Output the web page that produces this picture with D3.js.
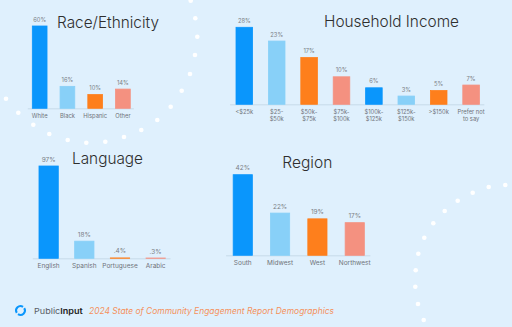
<!DOCTYPE html>
<html>
<head>
<meta charset="utf-8">
<script src="https://cdn.jsdelivr.net/npm/d3@7"></script>
<style>
  html, body { margin: 0; padding: 0; background: #dff0fd; }
  svg { display: block; font-family: Inter, "Open Sans", sans-serif; }
</style>
</head>
<body>
<svg id="chart" width="512" height="327"></svg>
<script>
// ---- data ----
const raceCats = ['White', 'Black', 'Hispanic', 'Other'];
const raceVals = [60, 16, 10, 14];
const raceLabels = ['60%', '16%', '10%', '14%'];

const incomeCats = ['<$25k', '$25-|$50k', '$50k-|$75k', '$75k-|$100k', '$100k-|$125k', '$125k-|$150k', '>$150k', 'Prefer not|to say'];
const incomeVals = [28, 23, 17, 10, 6, 3, 5, 7];
const incomeLabels = ['28%', '23%', '17%', '10%', '6%', '3%', '5%', '7%'];

const langCats = ['English', 'Spanish', 'Portuguese', 'Arabic'];
const langVals = [97, 18, 0.4, 0.3];
const langLabels = ['97%', '18%', '.4%', '.3%'];

const regionCats = ['South', 'Midwest', 'West', 'Northwest'];
const regionVals = [42, 22, 19, 17];
const regionLabels = ['42%', '22%', '19%', '17%'];

const palette = ['#0a96fc', '#88d0f8', '#fe7f1c', '#f49180'];

// decorative white dots (background ornament, not data)
const decorDots = [
  [6, 98.7], [18.3, 112.7], [33.3, 124.7], [49.3, 134], [67.7, 140], [86.3, 142.7],
  [105.3, 141.7], [124, 137], [141.3, 130], [157.3, 120], [170.7, 106.7], [181.7, 90.7],
  [190, 74], [195, 55], [197.3, 36.7], [195.3, 18.3], [190.7, 0.7],
  [505.3, 185], [488.7, 187], [472.7, 192.7], [457.7, 200.7], [444.7, 211], [433.3, 223.3],
  [424.3, 237.7], [418.3, 253.7], [415.7, 270.3], [415.3, 286.7], [418, 304], [423.7, 320]
];

const svg = d3.select('#chart');

svg.append('g').attr('class', 'decor')
  .selectAll('circle')
  .data(decorDots)
  .enter()
  .append('circle')
  .attr('cx', d => d[0])
  .attr('cy', d => d[1])
  .attr('r', 2.3)
  .attr('fill', '#ffffff');

// panel layouts
const panels = [
  {title: 'Race/Ethnicity', tx: 57, ty: 28, tw: 102, cats: raceCats, vals: raceVals, labels: raceLabels,
   x: [25.8, 136.8], pi: 0.47, base: 108.3, top: 26, max: 60, fs: 5.8, colors: palette},
  {title: 'Household Income', tx: 324, ty: 26.7, tw: 135, cats: incomeCats, vals: incomeVals, labels: incomeLabels,
   x: [228.1, 487.3], pi: 0.488, base: 104.3, top: 27.3, max: 28, fs: 5.8,
   colors: incomeCats.map((c, i) => palette[i % 4])},
  {title: 'Language', tx: 72, ty: 164, tw: 71, cats: langCats, vals: langVals, labels: langLabels,
   x: [30.8, 173.5], pi: 0.459, base: 258.3, top: 166, max: 97, fs: 6.5, colors: palette},
  {title: 'Region', tx: 282.3, ty: 167.7, tw: 50, cats: regionCats, vals: regionVals, labels: regionLabels,
   x: [224.1, 373.4], pi: 0.486, base: 255.3, top: 174.7, max: 42, fs: 6.5, colors: palette}
];

panels.forEach(p => drawPanel(p));

function drawPanel(p) {
  const g = svg.append('g').attr('class', 'panel');

  const xScale = d3.scaleBand()
    .domain(p.cats)
    .range(p.x)
    .paddingInner(p.pi)
    .paddingOuter(p.pi / 2);

  const yScale = d3.scaleLinear()
    .domain([0, p.max])
    .range([p.base, p.top]);

  g.append('text')
    .attr('x', p.tx)
    .attr('y', p.ty)
    .attr('textLength', p.tw)
    .attr('lengthAdjust', 'spacingAndGlyphs')
    .attr('font-size', 15.5)
    .attr('font-weight', 300)
    .attr('fill', '#2e2e2e')
    .text(p.title);

  // baseline
  g.append('line')
    .attr('x1', p.x[0] + 2)
    .attr('x2', p.x[1] - 3)
    .attr('y1', p.base + 0.5)
    .attr('y2', p.base + 0.5)
    .attr('stroke', '#c6dae9')
    .attr('stroke-width', 1);

  g.selectAll('rect.bar')
    .data(p.vals)
    .enter()
    .append('rect')
    .attr('class', 'bar')
    .attr('x', (d, i) => xScale(p.cats[i]))
    .attr('width', xScale.bandwidth())
    .attr('y', d => yScale(d))
    .attr('height', d => Math.max(0, p.base - yScale(d)))
    .attr('fill', (d, i) => p.colors[i])
    .attr('stroke', (d, i) => p.colors[i])
    .attr('stroke-width', 0.8);

  g.selectAll('text.value')
    .data(p.vals)
    .enter()
    .append('text')
    .attr('class', 'value')
    .attr('x', (d, i) => xScale(p.cats[i]) + xScale.bandwidth() / 2)
    .attr('y', d => yScale(d) - 4.5)
    .attr('text-anchor', 'middle')
    .attr('font-size', p.fs)
    .attr('fill', '#7b7f86')
    .text((d, i) => p.labels[i]);

  g.selectAll('text.cat')
    .data(p.cats)
    .enter()
    .append('text')
    .attr('class', 'cat')
    .attr('x', d => xScale(d) + xScale.bandwidth() / 2)
    .attr('y', p.base + 10)
    .attr('text-anchor', 'middle')
    .attr('font-size', p.fs)
    .attr('fill', '#6f737a')
    .each(function (d) {
      d.split('|').forEach((line, k) => {
        d3.select(this).append('tspan')
          .attr('x', xScale(d) + xScale.bandwidth() / 2)
          .attr('dy', k === 0 ? 0 : 6.3)
          .text(line);
      });
    });
}

// footer
const footer = svg.append('g').attr('class', 'footer');
const arc = d3.arc().innerRadius(3.4).outerRadius(5.4);
footer.append('path')
  .attr('transform', 'translate(20.5,310.5)')
  .attr('d', arc({startAngle: 1.0, endAngle: 3.75}))
  .attr('fill', '#0a96fc');
footer.append('path')
  .attr('transform', 'translate(20.5,310.5)')
  .attr('d', arc({startAngle: 4.15, endAngle: 6.9}))
  .attr('fill', '#0a96fc');

const brand = footer.append('text')
  .attr('x', 34)
  .attr('y', 313.5)
  .attr('font-size', 8.2)
  .attr('textLength', 48.7)
  .attr('lengthAdjust', 'spacingAndGlyphs')
  .attr('fill', '#5a5e66');
brand.append('tspan').text('Public');
brand.append('tspan').attr('font-weight', 600).attr('fill', '#222').text('Input');

footer.append('text')
  .attr('x', 89)
  .attr('y', 313.5)
  .attr('font-size', 8.6)
  .attr('font-style', 'italic')
  .attr('textLength', 245)
  .attr('lengthAdjust', 'spacingAndGlyphs')
  .attr('fill', '#f5915c')
  .text('2024 State of Community Engagement Report Demographics');
</script>
</body>
</html>
